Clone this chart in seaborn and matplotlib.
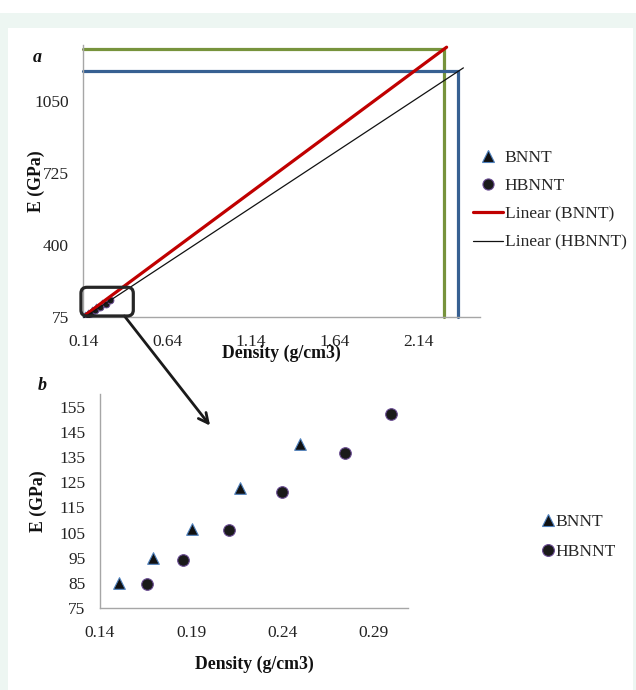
import numpy as np
import pandas as pd
import matplotlib
matplotlib.use("Agg")
import matplotlib.pyplot as plt
from matplotlib.patches import Rectangle, FancyBboxPatch
from matplotlib.lines import Line2D
import seaborn as sns

# ---------------- data ----------------
bnnt_density = [0.1506, 0.1690, 0.1907, 0.2168, 0.2497]
bnnt_E = [85.0, 95.0, 106.5, 122.6, 140.0]
hbnnt_density = [0.1657, 0.1858, 0.2109, 0.2396, 0.2746, 0.2997]
hbnnt_E = [84.5, 94.0, 106.2, 121.0, 136.5, 152.0]

# forward forecast ends of the linear trendlines (panel a)
bnnt_forecast_end = 2.305
hbnnt_forecast_end = 2.405
# densities where the guide lines meet the trendlines
bnnt_guide_density = 2.29
hbnnt_guide_density = 2.375

a_xticks = [0.14, 0.64, 1.14, 1.64, 2.14]
a_xticklabels = ["0.14", "0.64", "1.14", "1.64", "2.14"]
a_yticks = [75, 400, 725, 1050]
a_yticklabels = ["75", "400", "725", "1050"]
b_xticks = [0.14, 0.19, 0.24, 0.29]
b_xticklabels = ["0.14", "0.19", "0.24", "0.29"]
b_yticks = [75, 85, 95, 105, 115, 125, 135, 145, 155]
b_yticklabels = [str(v) for v in b_yticks]

# zoom box around the data in panel a (data units)
zoom_box_density = (0.126, 0.438)
zoom_box_E = (81, 210)

# ---------------- style ----------------
sns.set_style("white")
plt.rcParams["font.family"] = ["Liberation Serif", "DejaVu Serif"]

W, H = 636, 690
fig = plt.figure(figsize=(W / 100, H / 100), dpi=100)
fig.patch.set_facecolor("white")
fig.add_artist(Rectangle((0, 0), 1, 1 - 13 / H, transform=fig.transFigure,
                         facecolor="#EDF6F2", edgecolor="none", zorder=-10))
fig.add_artist(Rectangle((8 / W, 0), (633 - 8) / W, 1 - 28 / H, transform=fig.transFigure,
                         facecolor="white", edgecolor="none", zorder=-9))

ax_a = fig.add_axes([83.3 / W, (H - 317.3) / H, 396.7 / W, 272.3 / H])
ax_b = fig.add_axes([100 / W, (H - 608.3) / H, 308 / W, 214.2 / H])

TRI_FACE, TRI_EDGE = "#111111", "#4F81BD"
CIR_FACE, CIR_EDGE = "#1A1A1A", "#6A4C93"
RED, THIN = "#C00000", "#111111"
GREEN, BLUE = "#77933C", "#376092"
SPINE = "#A6A6A6"
TICK_FS = 12.5
LABEL_FS = 12.8

df_b = pd.DataFrame({"Density": bnnt_density, "E": bnnt_E})
df_h = pd.DataFrame({"Density": hbnnt_density, "E": hbnnt_E})

fit_b = np.polyfit(bnnt_density, bnnt_E, 1)
fit_h = np.polyfit(hbnnt_density, hbnnt_E, 1)

# ---------------- panel a ----------------
ax_a.set_xlim(0.14, 2.504)
ax_a.set_ylim(75, 1300)

for fit, g, col in [(fit_b, bnnt_guide_density, GREEN), (fit_h, hbnnt_guide_density, BLUE)]:
    gE = np.polyval(fit, g)
    ax_a.plot([0.14, g, g], [gE, gE, 75], color=col, lw=2.3, zorder=2,
              solid_joinstyle="miter", clip_on=False)

xl_b = np.array([min(bnnt_density), bnnt_forecast_end])
xl_h = np.array([min(hbnnt_density), hbnnt_forecast_end])
sns.lineplot(x=xl_b, y=np.polyval(fit_b, xl_b), color=RED, lw=2.3, ax=ax_a, zorder=4)
sns.lineplot(x=xl_h, y=np.polyval(fit_h, xl_h), color=THIN, lw=0.9, ax=ax_a, zorder=4)

sns.scatterplot(data=df_b, x="Density", y="E", marker="^", s=24, color=TRI_FACE,
                edgecolor=TRI_EDGE, linewidth=0.7, ax=ax_a, zorder=3)
sns.scatterplot(data=df_h, x="Density", y="E", marker="o", s=24, color=CIR_FACE,
                edgecolor=CIR_EDGE, linewidth=0.7, ax=ax_a, zorder=3)

ax_a.set_xticks(a_xticks, a_xticklabels)
ax_a.set_yticks(a_yticks, a_yticklabels)

# ---------------- panel b ----------------
ax_b.set_xlim(0.14, 0.309)
ax_b.set_ylim(75, 160)
sns.scatterplot(data=df_b, x="Density", y="E", marker="^", s=70, color=TRI_FACE,
                edgecolor=TRI_EDGE, linewidth=0.8, ax=ax_b, zorder=3)
sns.scatterplot(data=df_h, x="Density", y="E", marker="o", s=70, color=CIR_FACE,
                edgecolor=CIR_EDGE, linewidth=0.8, ax=ax_b, zorder=3)
ax_b.set_xticks(b_xticks, b_xticklabels)
ax_b.set_yticks(b_yticks, b_yticklabels)

for ax in (ax_a, ax_b):
    ax.set_facecolor("none")
    for s in ("top", "right"):
        ax.spines[s].set_visible(False)
    for s in ("left", "bottom"):
        ax.spines[s].set_color(SPINE)
        ax.spines[s].set_linewidth(1.0)
    ax.tick_params(axis="both", length=0, labelsize=TICK_FS, colors="#222222")
    ax.tick_params(axis="x", pad=12)
    ax.tick_params(axis="y", pad=10.5)
    ax.set_xlabel("Density (g/cm3)", fontsize=LABEL_FS, fontweight="bold", color="#111111")
    ax.set_ylabel("E (GPa)", fontsize=LABEL_FS, fontweight="bold", color="#111111")
    if ax.get_legend() is not None:
        ax.get_legend().remove()

ax_a.xaxis.set_label_coords(0.5, -0.102)
ax_a.yaxis.set_label_coords(-0.097, 0.5)
ax_b.xaxis.set_label_coords(0.5, -0.223)
ax_b.yaxis.set_label_coords(-0.172, 0.5)

# ---------------- legends ----------------
h_a = [
    Line2D([], [], ls="none", marker="^", ms=8, mfc=TRI_FACE, mec=TRI_EDGE, mew=0.8),
    Line2D([], [], ls="none", marker="o", ms=8, mfc=CIR_FACE, mec=CIR_EDGE, mew=0.8),
    Line2D([], [], color=RED, lw=2.3),
    Line2D([], [], color=THIN, lw=0.9),
]
leg_a = fig.legend(h_a, ["BNNT", "HBNNT", "Linear (BNNT)", "Linear (HBNNT)"],
                   loc="upper left", bbox_to_anchor=(473 / W, 1 - 150 / H),
                   frameon=False, fontsize=12.6, handlelength=1.7, handletextpad=0.12,
                   labelspacing=0.68, borderpad=0, borderaxespad=0)

h_b = [
    Line2D([], [], ls="none", marker="^", ms=8.5, mfc=TRI_FACE, mec=TRI_EDGE, mew=0.8),
    Line2D([], [], ls="none", marker="o", ms=8.5, mfc=CIR_FACE, mec=CIR_EDGE, mew=0.8),
]
leg_b = fig.legend(h_b, ["BNNT", "HBNNT"],
                   loc="upper left", bbox_to_anchor=(541 / W, 1 - 514 / H),
                   frameon=False, fontsize=12.6, handlelength=0.8, handletextpad=0.05,
                   labelspacing=0.78, borderpad=0, borderaxespad=0)

# ---------------- zoom box and arrow ----------------
p0 = ax_a.transData.transform((zoom_box_density[0], zoom_box_E[0]))
p1 = ax_a.transData.transform((zoom_box_density[1], zoom_box_E[1]))
box = FancyBboxPatch((p0[0], p0[1]), p1[0] - p0[0], p1[1] - p0[1],
                     boxstyle="round,pad=0,rounding_size=6", transform=None,
                     facecolor="none", edgecolor="#262626", lw=2.3, zorder=6)
fig.add_artist(box)

ax_b.annotate("", xy=(0.2004, 147.5), xycoords=ax_b.transData,
              xytext=(0.385, 81), textcoords=ax_a.transData,
              arrowprops=dict(arrowstyle="->,head_length=0.7,head_width=0.35",
                              lw=2.0, color="#1A1A1A", shrinkA=0, shrinkB=0),
              annotation_clip=False)

# ---------------- panel letters ----------------
fig.text(37 / W, 1 - 57 / H, "a", fontsize=13, fontweight="bold", style="italic",
         ha="center", va="center", color="#111111")
fig.text(42 / W, 1 - 385 / H, "b", fontsize=13, fontweight="bold", style="italic",
         ha="center", va="center", color="#111111")

fig.savefig("out.png", dpi=100)
